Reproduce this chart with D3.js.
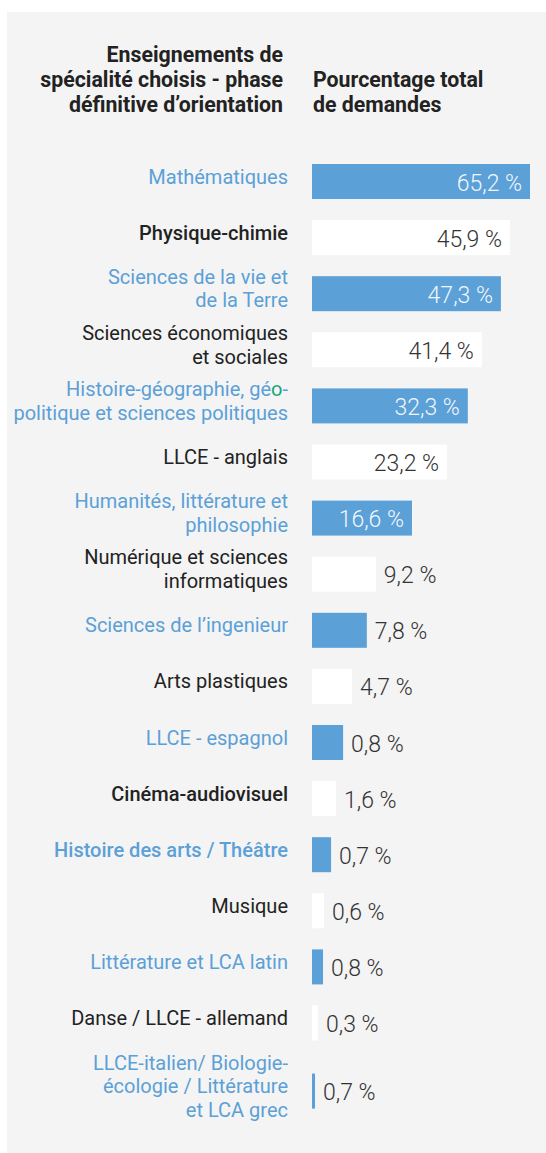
<!DOCTYPE html>
<html>
<head>
<meta charset="utf-8">
<script src="https://cdn.jsdelivr.net/npm/d3@7"></script>
<style>
  html, body { margin: 0; padding: 0; background: #ffffff; }
  svg { display: block; font-family: Roboto, "Noto Sans", sans-serif; }
</style>
</head>
<body>
<svg id="chart" width="546" height="1153"></svg>
<script>
// ---- data ----
const categories = [
  "Mathématiques",
  "Physique-chimie",
  "Sciences de la vie et|de la Terre",
  "Sciences économiques|et sociales",
  "Histoire-géographie, géo-|politique et sciences politiques",
  "LLCE - anglais",
  "Humanités, littérature et|philosophie",
  "Numérique et sciences|informatiques",
  "Sciences de l’ingenieur",
  "Arts plastiques",
  "LLCE - espagnol",
  "Cinéma-audiovisuel",
  "Histoire des arts / Théâtre",
  "Musique",
  "Littérature et LCA latin",
  "Danse / LLCE - allemand",
  "LLCE-italien/ Biologie-|écologie / Littérature|et LCA grec"
];
// printed percentages
const shares = [65.2, 45.9, 47.3, 41.4, 32.3, 23.2, 16.6, 9.2, 7.8, 4.7, 0.8, 1.6, 0.7, 0.6, 0.8, 0.3, 0.7];
// drawn bar lengths (as they appear in the picture, in the same % units)
const barLengths = [65.2, 59.2, 56.5, 50.8, 46.6, 40.4, 29.9, 19.1, 16.4, 12.0, 9.3, 7.2, 5.7, 3.6, 3.3, 1.8, 0.9];
const headerLeft = ["Enseignements de", "spécialité choisis - phase", "définitive d’orientation"];
const headerRight = ["Pourcentage total", "de demandes"];

// ---- layout / style ----
const W = 546, H = 1153;
const BLUE = "#5ba0d7", DARK = "#222222", VALUE_DARK = "#333333", GREEN = "#1aa57e";
const mediumWeight = new Set(["Physique-chimie", "Cinéma-audiovisuel", "Histoire des arts / Théâtre"]);
const barX0 = 312, labelRight = 288;
const lineH = 23.5;

const svg = d3.select("#chart");
svg.append("rect").attr("x", 7).attr("y", 12).attr("width", W - 7).attr("height", H - 12).attr("fill", "#f4f4f4");

// headers
const hl = svg.append("text").attr("text-anchor", "end").attr("font-weight", 700)
  .attr("font-size", 21.3).attr("fill", DARK);
headerLeft.forEach((t, i) => hl.append("tspan").attr("x", 283).attr("y", 62 + i * 25).text(t));
const hr = svg.append("text").attr("text-anchor", "start").attr("font-weight", 700)
  .attr("font-size", 21.3).attr("fill", DARK);
headerRight.forEach((t, i) => hr.append("tspan").attr("x", 313).attr("y", 87 + i * 25).text(t));

// scales
const n = categories.length;
const step = 56.1, bh = 35;
const y = d3.scaleBand().domain(d3.range(n))
  .range([164, 164 + step * (n - 1) + bh]).paddingInner((step - bh) / step).paddingOuter(0);
const x = d3.scaleLinear().domain([0, 65.2]).range([0, 218]);

const nLines = categories.map(c => c.split("|").length);
let acc = 0;
const extra = nLines.map(l => { acc += Math.max(0, l - 2) * 12; return acc; });
const rowY = i => y(i) + extra[i];

const fmt = v => d3.format(".1f")(v).replace(".", ",") + " %";

const rows = svg.selectAll("g.row").data(categories).join("g").attr("class", "row");

rows.append("rect")
  .attr("x", barX0)
  .attr("y", (d, i) => rowY(i))
  .attr("width", (d, i) => x(barLengths[i]))
  .attr("height", y.bandwidth())
  .attr("fill", (d, i) => i % 2 === 0 ? BLUE : "#ffffff");

// category labels
rows.each(function(d, i) {
  const g = d3.select(this);
  const lines = d.split("|");
  const cy = rowY(i) + y.bandwidth() / 2;
  const t = g.append("text").attr("text-anchor", "end")
    .attr("font-size", 20)
    .attr("font-weight", mediumWeight.has(d) ? 500 : 400)
    .attr("fill", i % 2 === 0 ? BLUE : DARK);
  lines.forEach((ln, k) => {
    const ts = t.append("tspan").attr("x", labelRight)
      .attr("y", cy + 2 + (k - (lines.length - 1) / 2) * lineH);
    if (ln.endsWith("géo-")) {
      ts.append("tspan").text(ln.slice(0, -2));
      ts.append("tspan").attr("fill", GREEN).text("o");
      ts.append("tspan").text("-");
    } else {
      ts.text(ln);
    }
  });
});

// value labels
rows.each(function(d, i) {
  const g = d3.select(this);
  const w = x(barLengths[i]);
  const cy = rowY(i) + y.bandwidth() / 2;
  const t = g.append("text").attr("font-size", 23).attr("font-weight", 300)
    .attr("y", cy + 9).text(fmt(shares[i]));
  const tw = t.node().getComputedTextLength();
  if (w >= tw + 16) {
    t.attr("x", barX0 + w - 8).attr("text-anchor", "end")
      .attr("fill", i % 2 === 0 ? "#f3f7fc" : VALUE_DARK);
  } else {
    t.attr("x", barX0 + w + 8).attr("text-anchor", "start").attr("fill", VALUE_DARK);
  }
});
</script>
</body>
</html>
